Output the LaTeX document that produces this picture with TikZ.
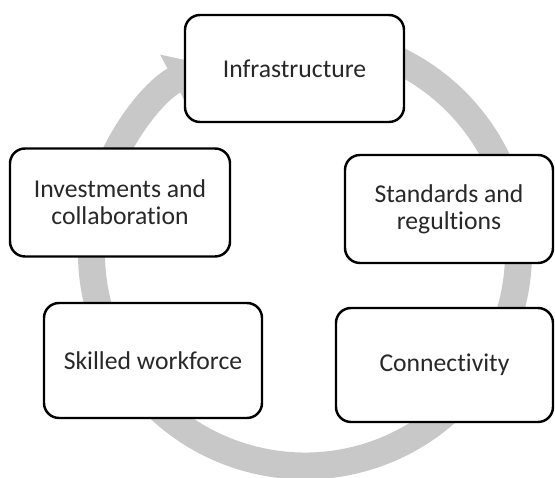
\documentclass[tikz,border=0pt]{standalone}
\usepackage{fontspec}
\setmainfont{Carlito}[Ligatures={NoCommon,NoContextual}]
\usetikzlibrary{arrows.meta}

\definecolor{ringgray}{RGB}{200,200,200}
\definecolor{textgray}{RGB}{40,40,40}

\begin{document}
\begin{tikzpicture}[
  stage/.style={draw=black, line width=1.4pt, rounded corners=0.3cm, fill=white,
    align=center, inner sep=0pt, text=textgray,
    font=\fontsize{14.6}{15.2}\selectfont}
]

% Fix the size of the picture
\useasboundingbox (0,0) rectangle (11.1,9.56);

% Define the ring
\def\radius{4.27}
\coordinate (hub) at (6.10,4.51);

% Draw the gray cycle arrow behind the boxes
\draw[line width=0.54cm, ringgray, -{Triangle[width=1.12cm,length=0.7cm]}]
  ([shift={(75:\radius)}]hub) arc[start angle=75, end angle=-242, radius=\radius];

% Place the five stages around the ring
\node[stage, minimum width=4.38cm, minimum height=2.14cm] (infra) at (5.89,8.19) {Infrastructure};
\node[stage, minimum width=4.16cm, minimum height=2.16cm] (standards) at (8.98,5.38) {Standards and\\regultions};
\node[stage, minimum width=4.34cm, minimum height=2.28cm] (connect) at (8.89,2.26) {Connectivity};
\node[stage, minimum width=4.36cm, minimum height=2.30cm] (skilled) at (3.06,2.35) {Skilled workforce};
\node[stage, minimum width=4.40cm, minimum height=2.16cm] (invest) at (2.40,5.51) {Investments and\\collaboration};

\end{tikzpicture}
\end{document}
